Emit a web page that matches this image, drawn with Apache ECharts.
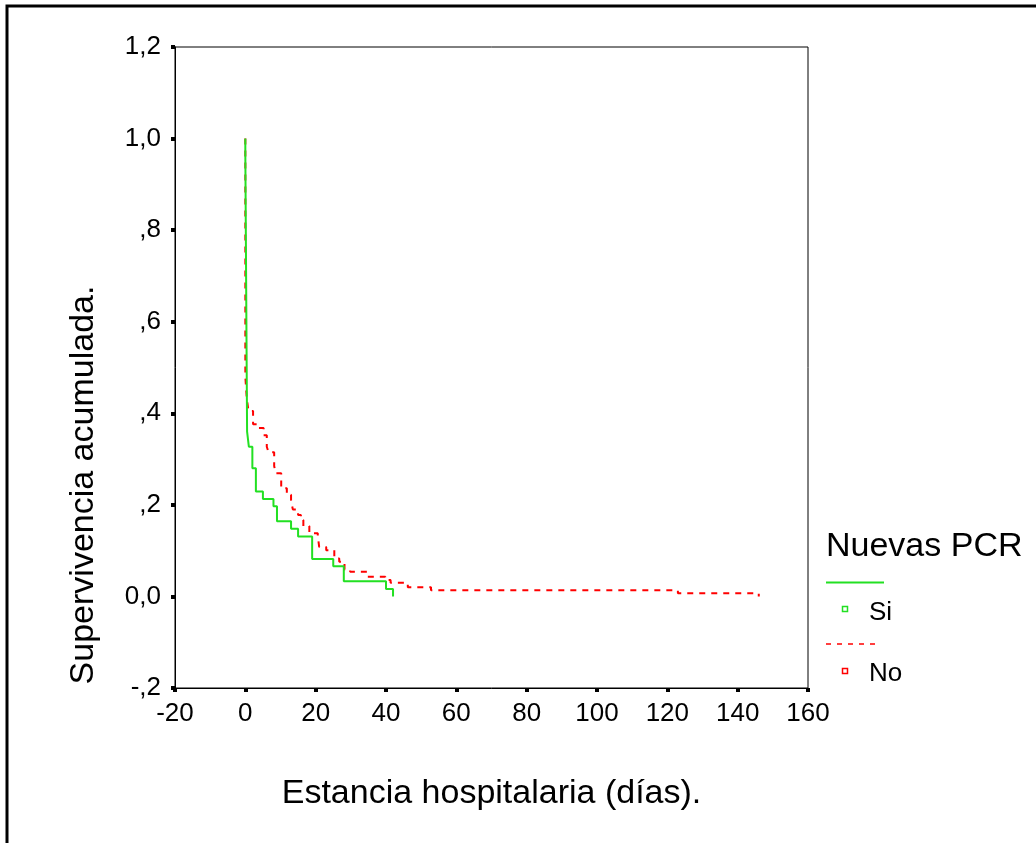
<!DOCTYPE html>
<html>
<head>
<meta charset="utf-8">
<script src="https://cdn.jsdelivr.net/npm/echarts@6/dist/echarts.min.js"></script>
<style>
  html, body { margin: 0; padding: 0; background: #fff; }
  #chart { width: 1036px; height: 843px; }
</style>
</head>
<body>
<div id="chart"></div>
<script>
// Kaplan-Meier survival: time (days) and cumulative survival after each drop
const siDays = [0, 0, 0.5, 1, 2, 3, 5, 8, 9, 13, 15, 19, 25, 28, 40, 42];
const siSurv = [1.0, 0.967, 0.36, 0.327, 0.28, 0.229, 0.213, 0.197, 0.164, 0.148, 0.131, 0.082, 0.066, 0.033, 0.016, 0.0];

const noDays = [0, 0, 0.4, 0.9, 2.2, 3.8, 5.2, 6.1, 6.6, 8.2, 8.6, 10.2, 11.8, 13.0, 13.5, 15.0, 15.8, 16.5, 18.2, 20.6, 21.0, 23.0, 25.3, 26.7, 28.2, 29.8, 34.8, 39.8, 41.3, 46.2, 52.8, 123, 146];
const noSurv = [1.0, 0.48, 0.433, 0.405, 0.376, 0.368, 0.352, 0.327, 0.315, 0.285, 0.269, 0.236, 0.222, 0.21, 0.19, 0.178, 0.167, 0.154, 0.138, 0.132, 0.108, 0.101, 0.083, 0.076, 0.059, 0.054, 0.043, 0.036, 0.030, 0.020, 0.0135, 0.0068, 0.0];

const xTicks = [-20, 0, 20, 40, 60, 80, 100, 120, 140, 160];
const yTickLabels = { '1.2': '1,2', '1': '1,0', '0.8': ',8', '0.6': ',6', '0.4': ',4', '0.2': ',2', '0': '0,0', '-0.2': '-,2' };

const groupNames = ['Si', 'No'];
const legendTitle = 'Nuevas PCR';
const xTitle = 'Estancia hospitalaria (días).';
const yTitle = 'Supervivencia acumulada.';

const FONT = '"Liberation Sans", Arial, Helvetica, sans-serif';
const GREEN = '#22e022';
const RED = '#ff0000';

const pairs = (xs, ys) => xs.map((x, i) => [x, ys[i]]);

const chart = echarts.init(document.getElementById('chart'), null, { renderer: 'canvas' });

chart.setOption({
  backgroundColor: '#ffffff',
  animation: false,
  grid: {
    left: 175, top: 47, right: 228, bottom: 155,
    show: true, borderColor: '#000', borderWidth: 1, backgroundColor: 'transparent'
  },
  xAxis: {
    type: 'value', min: -20, max: 160, interval: 20,
    axisLine: { show: true, onZero: false, lineStyle: { color: '#000', width: 1 } },
    axisTick: { show: true, inside: false, length: 4, lineStyle: { color: '#000', width: 4 } },
    splitLine: { show: false },
    axisLabel: {
      color: '#000', fontFamily: FONT, fontSize: 26, margin: 13,
      formatter: v => xTicks.includes(v) ? String(v) : ''
    },
    name: xTitle, nameLocation: 'middle', nameGap: 89,
    nameTextStyle: { color: '#000', fontFamily: FONT, fontSize: 34 }
  },
  yAxis: {
    type: 'value', min: -0.2, max: 1.2, interval: 0.2,
    axisLine: { show: true, onZero: false, lineStyle: { color: '#000', width: 1 } },
    axisTick: { show: true, inside: false, length: 4, lineStyle: { color: '#000', width: 4 } },
    splitLine: { show: false },
    axisLabel: {
      color: '#000', fontFamily: FONT, fontSize: 26, margin: 14,
      formatter: v => yTickLabels[String(Math.round(v * 10) / 10)] || ''
    }
  },
  series: [
    {
      name: groupNames[0], type: 'line', step: 'end', showSymbol: false,
      data: pairs(siDays, siSurv),
      lineStyle: { color: GREEN, width: 2 }, z: 3
    },
    {
      name: groupNames[1], type: 'line', step: 'end', showSymbol: false,
      data: pairs(noDays, noSurv),
      lineStyle: { color: RED, width: 2, type: [6, 6] }, z: 2
    }
  ],
  graphic: [
    // outer frame
    { type: 'rect', shape: { x: 7, y: 6, width: 1100, height: 900 },
      style: { fill: null, stroke: '#000', lineWidth: 3 }, silent: true },
    // y axis title
    { type: 'text', x: 84, y: 485, rotation: Math.PI / 2,
      style: { text: yTitle, fill: '#000', font: '34px ' + FONT, align: 'center', verticalAlign: 'middle' } },
    // legend
    { type: 'text', x: 826, y: 547,
      style: { text: legendTitle, fill: '#000', font: '34px ' + FONT, align: 'left', verticalAlign: 'middle' } },
    { type: 'line', shape: { x1: 826, y1: 582.5, x2: 884, y2: 582.5 },
      style: { stroke: GREEN, lineWidth: 2 } },
    { type: 'rect', shape: { x: 842.5, y: 606.5, width: 5, height: 5 },
      style: { fill: '#fff', stroke: GREEN, lineWidth: 1.5 } },
    { type: 'text', x: 869, y: 613,
      style: { text: groupNames[0], fill: '#000', font: '26px ' + FONT, align: 'left', verticalAlign: 'middle' } },
    { type: 'line', shape: { x1: 826, y1: 644, x2: 880, y2: 644 },
      style: { stroke: RED, lineWidth: 1.5, lineDash: [5, 6] } },
    { type: 'rect', shape: { x: 842.5, y: 668.5, width: 5, height: 5 },
      style: { fill: '#fff', stroke: RED, lineWidth: 1.5 } },
    { type: 'text', x: 869, y: 674,
      style: { text: groupNames[1], fill: '#000', font: '26px ' + FONT, align: 'left', verticalAlign: 'middle' } }
  ]
});
</script>
</body>
</html>
